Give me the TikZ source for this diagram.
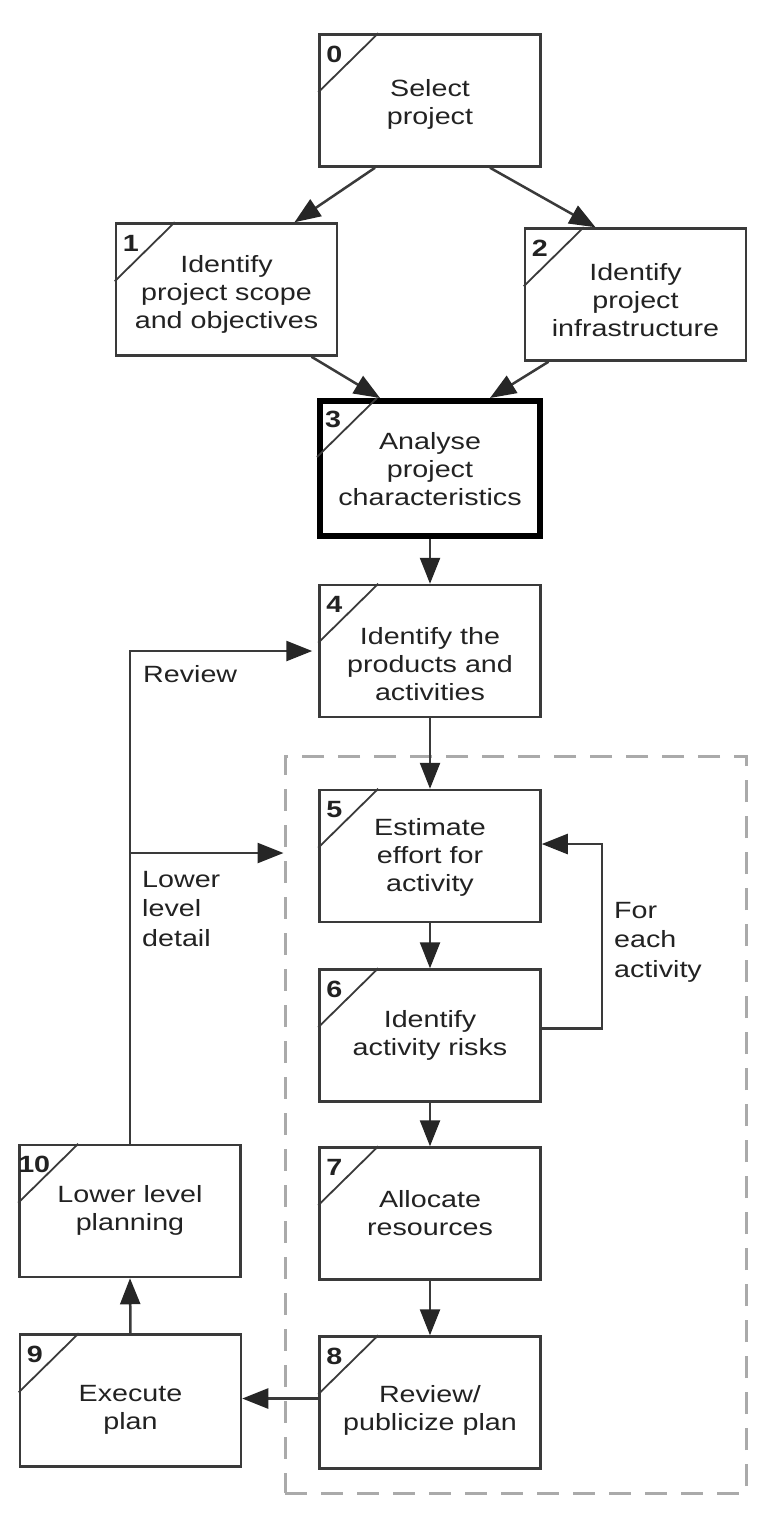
\documentclass[tikz,border=0pt]{standalone}
\usepackage{fontspec}
\setmainfont{Liberation Sans}[FakeStretch=1.22]
\usetikzlibrary{arrows.meta,calc}
\definecolor{linec}{HTML}{3A3A3A}
\definecolor{txtc}{HTML}{222222}
\definecolor{dashc}{HTML}{AAAAAA}
\newcommand\dfont{\fontsize{23.5}{28}\selectfont}
\newcommand\bt[2]{\raisebox{-\dimexpr #1pt\relax}[0pt][0pt]{\parbox[c]{215pt}{\centering #2}}}
\newcommand\stepcorner[2]{%
  \draw[linec, line width=1.8pt] ([xshift=60pt]#1.north west) -- ([yshift=-59pt]#1.north west);
  \node[numlab] at ([xshift=16pt,yshift=-21pt]#1.north west) {#2};}
\begin{document}
\begin{tikzpicture}[x=1pt,y=-1pt,
  stepbox/.style={draw=linec, line width=2.5pt, minimum width=221pt, minimum height=132pt,
    inner sep=0pt, align=center, font=\dfont, text=txtc},
  arr/.style={draw=linec, line width=2.5pt, -{Triangle[length=26pt,width=20pt,color=black!85,fill=black!85]}},
  numlab/.style={font=\dfont\bfseries, text=txtc, inner sep=0pt},
  lab/.style={font=\fontsize{23.5}{29.5}\selectfont, text=txtc, align=left, inner sep=0pt, anchor=base west}]
\useasboundingbox (0,0) rectangle (764,1518);
\fill[white] (0,0) rectangle (764,1518);

% group (dashed)
\node[draw=dashc, line width=3pt, dash pattern=on 22pt off 14pt, minimum width=461pt, minimum height=737pt, inner sep=0pt] (grp) at (515.5,1124.5) {};

% boxes
\node[stepbox] (b0) at (430,100.5) {\bt{10}{Select\\project}};
\node[stepbox] (b1) at (226.5,289.5) {\bt{11}{Identify\\project scope\\and objectives}};
\node[stepbox] (b2) at (635.5,294.5) {\bt{12}{Identify\\project\\infrastructure}};
\node[stepbox, draw=black, line width=6pt, minimum width=220pt, minimum height=135pt] (b3) at (430,468.5) {\bt{7}{Analyse\\project\\characteristics}};
\node[stepbox] (b4) at (430,651) {\bt{19}{Identify the\\products and\\activities}};
\node[stepbox] (b5) at (430,856) {\bt{8}{Estimate\\effort for\\activity}};
\node[stepbox] (b6) at (430,1035.5) {\bt{6}{Identify\\activity risks}};
\node[stepbox] (b7) at (430,1213.5) {\bt{6}{Allocate\\resources}};
\node[stepbox] (b8) at (430,1402.5) {\bt{14}{Review/\\publicize plan}};
\node[stepbox] (b9) at (130.5,1400.5) {\bt{16}{Execute\\plan}};
\node[stepbox] (b10) at (130,1211) {\bt{6}{Lower level\\planning}};

\stepcorner{b0}{0}
\stepcorner{b1}{1}
\stepcorner{b2}{2}
\stepcorner{b3}{3}
\stepcorner{b4}{4}
\stepcorner{b5}{5}
\stepcorner{b6}{6}
\stepcorner{b7}{7}
\stepcorner{b8}{8}
\stepcorner{b9}{9}
\stepcorner{b10}{10}

% connectors
\draw[arr] ($(b0.south)+(-55,0)$) -- ($(b1.north)+(68,0)$);
\draw[arr] ($(b0.south)+(60,0)$) -- ($(b2.north)+(-40,0)$);
\draw[arr] ($(b1.south)+(85,0)$) -- ($(b3.north)+(-50,0)$);
\draw[arr] ($(b2.south)+(-87,0)$) -- ($(b3.north)+(60,0)$);
\draw[arr] (b3) -- (b4);
\draw[arr] (b4) -- (b5);
\draw[arr] (b5) -- (b6);
\draw[arr] (b6) -- (b7);
\draw[arr] (b7) -- (b8);
\coordinate (c8) at ($(b8.west)+(0,-4)$);
\draw[arr] (c8) -- (c8 -| b9.east);
\draw[arr] (b9.north) -- (b10.south);
\draw[arr, shorten >=6pt] (b10.north) |- (b4.west);
\coordinate (dl) at (grp.west |- 0,853);
\coordinate (br) at (b10.north |- dl);
\draw[arr] (br) -- (dl);
\coordinate (f6) at ($(b6.east)+(0,-7)$);
\coordinate (f5) at ($(b5.east)+(0,-12)$);
\draw[arr] (f6) -| ($(f5)+(60,0)$) -- (f5);

% labels
\node[lab] (lrev) at (143,682) {Review};
\node[lab] (llow) at (142,946) {Lower\\level\\detail};
\node[lab] (lfor) at (614,977) {For\\each\\activity};
\end{tikzpicture}
\end{document}
